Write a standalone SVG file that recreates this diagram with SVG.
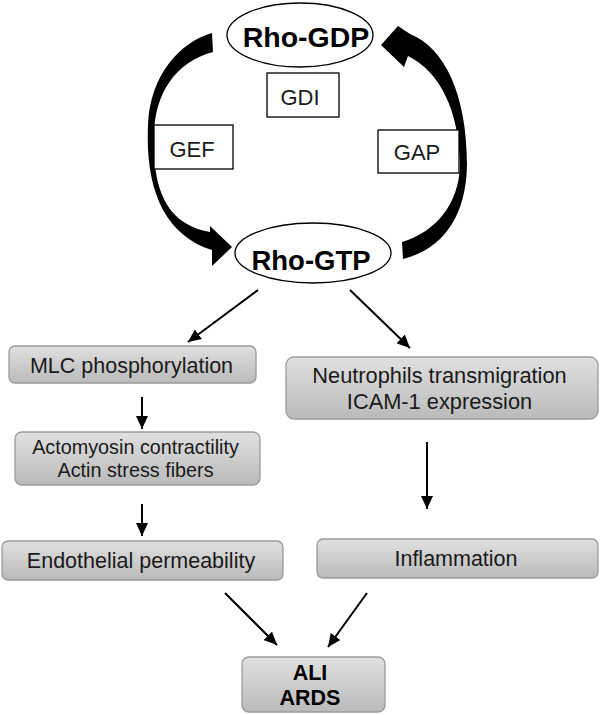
<svg xmlns="http://www.w3.org/2000/svg" width="600" height="715" viewBox="0 0 600 715">
<defs>
<linearGradient id="gb" x1="0" y1="0" x2="0" y2="1">
<stop offset="0" stop-color="#e0e0e0"/>
<stop offset="1" stop-color="#bababa"/>
</linearGradient>
<marker id="ah" markerUnits="userSpaceOnUse" markerWidth="14" markerHeight="12" refX="13" refY="6" orient="auto">
<path d="M0,0 L13,6 L0,12 Z" fill="#000"/>
</marker>
<style>
.g rect{fill:url(#gb);stroke:#9a9a9a;stroke-width:1.3}
.t{font-family:"Liberation Sans",Arial,sans-serif;fill:#1a1a1a;text-anchor:middle}
.b{font-weight:bold;fill:#000}
.w rect{fill:#fff;stroke:#000;stroke-width:1.3}
.e ellipse{fill:#fff;stroke:#000;stroke-width:1.3}
.c line{stroke:#000;stroke-width:2;marker-end:url(#ah)}
</style>
</defs>
<rect width="600" height="715" fill="#fff"/>

<g id="cycle-arcs">
<path d="M212,33 C180,42 150,75 148,125 C145,190 165,235 212,250 L212,266 L232,247 L210,226 L210,232 C170,225 153,195 154,140 C153,95 175,62 213,52 Z" fill="#000"/>
<path d="M402,242 L403,259 C440,250 466,220 467,165 C467,95 445,48 410,34 L398,26 L381,45 L404,67 L408,56 C440,72 459,110 460,165 C459,205 435,232 402,242 Z" fill="#000"/>
</g>

<g id="rho-gdp" class="e"><ellipse cx="300" cy="35" rx="73" ry="32"/><text class="t b" x="306" y="47" font-size="28.5">Rho-GDP</text></g>
<g id="rho-gtp" class="e"><ellipse cx="313" cy="253" rx="78" ry="30"/><text class="t b" x="311" y="270" font-size="27.5">Rho-GTP</text></g>
<g id="gdi" class="w"><rect x="267" y="73" width="72" height="44"/><text class="t" x="300" y="105" font-size="22">GDI</text></g>
<g id="gef" class="w"><rect x="154" y="125" width="79" height="44"/><text class="t" x="192" y="157" font-size="22">GEF</text></g>
<g id="gap" class="w"><rect x="378" y="130" width="81" height="43"/><text class="t" x="417" y="160" font-size="22">GAP</text></g>

<g id="mlc" class="g"><rect x="9" y="346" width="247" height="37" rx="6"/><text class="t" x="131.5" y="373" font-size="21.5">MLC phosphorylation</text></g>
<g id="actomyosin" class="g"><rect x="15" y="432" width="245" height="53" rx="7"/><text class="t" x="135.5" y="454" font-size="19.8">Actomyosin contractility</text><text class="t" x="135.5" y="477" font-size="19.8">Actin stress fibers</text></g>
<g id="endothelial" class="g"><rect x="2" y="541" width="281" height="39" rx="6"/><text class="t" x="141" y="568" font-size="21.5">Endothelial permeability</text></g>
<g id="neutrophils" class="g"><rect x="286" y="357" width="312" height="62" rx="8"/><text class="t" x="439.5" y="383" font-size="21.8">Neutrophils transmigration</text><text class="t" x="439.5" y="409" font-size="21.8">ICAM-1 expression</text></g>
<g id="inflammation" class="g"><rect x="317" y="539" width="281" height="39" rx="6"/><text class="t" x="456" y="566" font-size="21.5">Inflammation</text></g>
<g id="ali-ards" class="g"><rect x="242" y="657" width="143" height="55" rx="7"/><text class="t b" x="310" y="680" font-size="21.5">ALI</text><text class="t b" x="310" y="705" font-size="21.5">ARDS</text></g>

<g id="connectors" class="c">
<line x1="258" y1="290" x2="188" y2="342"/>
<line x1="350" y1="290" x2="410" y2="348"/>
<line x1="142" y1="397" x2="142" y2="429"/>
<line x1="142" y1="504" x2="142" y2="536"/>
<line x1="427" y1="442" x2="427" y2="509"/>
<line x1="225" y1="593" x2="277" y2="645"/>
<line x1="367" y1="593" x2="328" y2="647"/>
</g>
</svg>
